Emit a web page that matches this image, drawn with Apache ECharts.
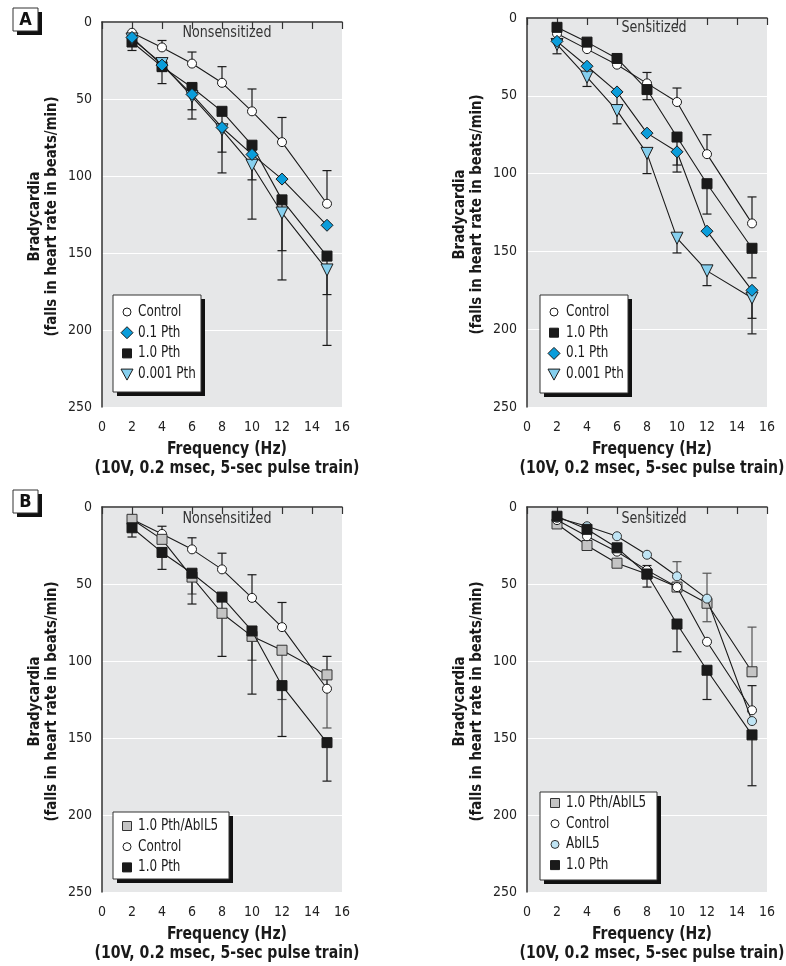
<!DOCTYPE html>
<html>
<head>
<meta charset="utf-8">
<script src="https://cdn.jsdelivr.net/npm/echarts@6/dist/echarts.min.js"></script>
<style>
  html, body { margin: 0; padding: 0; background: #ffffff; }
  #chart { width: 786px; height: 966px; }
</style>
</head>
<body>
<div id="chart"></div>
<script>
// Stimulation frequencies (Hz)
const freq = [2, 4, 6, 8, 10, 12, 15];
const xTicks = [0, 2, 4, 6, 8, 10, 12, 14, 16];
const yTicks = [0, 50, 100, 150, 200, 250];

// A, nonsensitized: bradycardia (beats/min) and error-bar end values
const aNonControl = [7, 16.5, 27, 39.5, 58, 78, 118];
const aNonControlErr = [null, 12, 19.5, 29, 43.5, 62, 96.5];
const aNonPth01 = [10, 28, 47, 68.5, 86, 102, 132];
const aNonPth10 = [13, 29, 42.5, 58, 80, 115.5, 152];
const aNonPth10Err = [18.5, 40, 63, 98, 128, 167.5, 210];
const aNonPth0001 = [11, 27, 48.5, 70, 93, 124, 161];
const aNonPth0001Err = [null, 32, 57, 84.5, 102.5, 148.5, 177];

// A, sensitized
const aSenControl = [10, 20, 30, 42, 54, 87.5, 132];
const aSenControlErr = [null, null, null, 35, 45, 75, 115];
const aSenPth10 = [6, 15.5, 26, 46, 76.5, 106.5, 148];
const aSenPth10Err = [null, null, null, 52.5, 94.5, 126, 167];
const aSenPth01 = [15, 31, 47.5, 74, 86, 137, 175];
const aSenPth01Err = [null, null, 56, null, 99, null, 193];
const aSenPth0001 = [17, 38, 59.5, 87, 141.5, 162.5, 180];
const aSenPth0001Err = [23, 44, 68, 100, 151, 172, 203];

// B, nonsensitized
const bNonAb = [8, 21, 45.5, 69, 84, 93, 109];
const bNonAbErr = [null, null, 56.5, null, 99.5, 125, 143.5];
const bNonControl = [8, 17.5, 27.5, 40.5, 59, 78, 118];
const bNonControlErr = [null, 12.5, 20, 30, 44, 62, 97];
const bNonPth10 = [13.5, 29.5, 43, 58.5, 80.5, 116, 153];
const bNonPth10Err = [19.5, 40.5, 63, 97, 121.5, 149, 178];

// B, sensitized
const bSenAb = [11, 25, 36.5, 43.5, 52, 62.5, 107];
const bSenAbErr = [null, null, null, null, null, 74.5, 78];
const bSenControl = [8.5, 19, 29, 41, 52, 87.5, 132];
const bSenControlErr = [null, null, null, 38, null, null, 116];
const bSenAbil5 = [7, 12.5, 19, 31, 45, 59.5, 139];
const bSenAbil5Err = [null, null, null, null, 35.5, 43, null];
const bSenPth10 = [6, 14.5, 26.5, 43.5, 76, 106, 148];
const bSenPth10Err = [null, null, null, 52, 94, 125, 181];

const FONT = '"DejaVu Sans Condensed", "Liberation Sans", sans-serif';

// marker styles per group
const STY = {
  control: { symbol: 'circle', size: 9, fill: '#ffffff', stroke: '#1a1a1a', err: '#1a1a1a' },
  pth01:   { symbol: 'diamond', size: 12, fill: '#0a9ddb', stroke: '#1a1a1a', err: '#1a1a1a' },
  pth10:   { symbol: 'rect', size: 10, fill: '#1a1a1a', stroke: '#1a1a1a', err: '#1a1a1a' },
  pth0001: { symbol: 'triangle', size: 12, rotate: 180, fill: '#86cfee', stroke: '#1a1a1a', err: '#1a1a1a' },
  ab:      { symbol: 'rect', size: 10, fill: '#c4c4c4', stroke: '#333333', err: '#555555' },
  abil5:   { symbol: 'circle', size: 9, fill: '#bfe4f4', stroke: '#333333', err: '#555555' }
};

const panels = [
  {
    grid: { left: 102, top: 22, width: 240, height: 385 },
    tag: 'A', tagY: 8, note: 'Nonsensitized', noteX: 227, noteY: 33,
    legend: { x: 113, y: 295, w: 88, h: 97, first: 312, mx: 127, tx: 138 },
    draw: [
      ['control', aNonControl, aNonControlErr],
      ['pth10', aNonPth10, aNonPth10Err],
      ['pth0001', aNonPth0001, aNonPth0001Err],
      ['pth01', aNonPth01, null]
    ],
    entries: [['control', 'Control'], ['pth01', '0.1 Pth'], ['pth10', '1.0 Pth'], ['pth0001', '0.001 Pth']]
  },
  {
    grid: { left: 527, top: 18, width: 240, height: 389 },
    note: 'Sensitized', noteX: 654, noteY: 28,
    legend: { x: 540, y: 295, w: 88, h: 98, first: 312, mx: 554, tx: 566 },
    draw: [
      ['control', aSenControl, aSenControlErr],
      ['pth10', aSenPth10, aSenPth10Err],
      ['pth0001', aSenPth0001, aSenPth0001Err],
      ['pth01', aSenPth01, aSenPth01Err]
    ],
    entries: [['control', 'Control'], ['pth10', '1.0 Pth'], ['pth01', '0.1 Pth'], ['pth0001', '0.001 Pth']]
  },
  {
    grid: { left: 102, top: 507, width: 240, height: 385 },
    tag: 'B', tagY: 490, note: 'Nonsensitized', noteX: 227, noteY: 519,
    legend: { x: 113, y: 812, w: 116, h: 67, first: 826, mx: 127, tx: 138 },
    draw: [
      ['control', bNonControl, bNonControlErr],
      ['ab', bNonAb, bNonAbErr],
      ['pth10', bNonPth10, bNonPth10Err]
    ],
    entries: [['ab', '1.0 Pth/AbIL5'], ['control', 'Control'], ['pth10', '1.0 Pth']]
  },
  {
    grid: { left: 527, top: 507, width: 240, height: 385 },
    note: 'Sensitized', noteX: 654, noteY: 519,
    legend: { x: 540, y: 792, w: 117, h: 88, first: 803, mx: 555, tx: 566 },
    draw: [
      ['ab', bSenAb, bSenAbErr],
      ['control', bSenControl, bSenControlErr],
      ['abil5', bSenAbil5, bSenAbil5Err],
      ['pth10', bSenPth10, bSenPth10Err]
    ],
    entries: [['ab', '1.0 Pth/AbIL5'], ['control', 'Control'], ['abil5', 'AbIL5'], ['pth10', '1.0 Pth']]
  }
];

function errRenderer(color) {
  return function (params, api) {
    const x = api.value(0);
    const p1 = api.coord([x, api.value(1)]);
    const p2 = api.coord([x, api.value(2)]);
    const st = { stroke: color, lineWidth: 1.2 };
    return {
      type: 'group',
      children: [
        { type: 'line', shape: { x1: p1[0], y1: p1[1], x2: p2[0], y2: p2[1] }, style: st },
        { type: 'line', shape: { x1: p2[0] - 4.5, y1: p2[1], x2: p2[0] + 4.5, y2: p2[1] }, style: st }
      ]
    };
  };
}

function legendMarker(key, cx, cy) {
  const s = STY[key];
  const style = { fill: s.fill, stroke: s.stroke, lineWidth: 1 };
  if (key === 'control' || key === 'abil5') {
    return { type: 'circle', shape: { cx: cx, cy: cy, r: 4 }, style: style };
  }
  if (key === 'pth10' || key === 'ab') {
    return { type: 'rect', shape: { x: cx - 4.5, y: cy - 4.5, width: 9, height: 9 }, style: style };
  }
  if (key === 'pth01') {
    return { type: 'polygon', shape: { points: [[cx, cy - 6], [cx + 6, cy], [cx, cy + 6], [cx - 6, cy]] }, style: style };
  }
  return { type: 'polygon', shape: { points: [[cx - 6, cy - 5], [cx + 6, cy - 5], [cx, cy + 6]] }, style: style };
}

// condensed text helper (horizontal squeeze along the text direction)
function label(x, y, text, font, opts) {
  opts = opts || {};
  return {
    type: 'text', x: x, y: y, rotation: opts.rotation || 0, scaleX: opts.scale || 1, z: opts.z || 10,
    style: {
      text: text, align: opts.align || 'center', verticalAlign: 'middle',
      font: font, fill: opts.fill || '#1a1a1a', lineHeight: opts.lineHeight || 18
    }
  };
}

const grids = [], xAxes = [], yAxes = [], series = [], graphics = [];

panels.forEach(function (p, i) {
  const g = p.grid;
  grids.push(Object.assign({ show: true, backgroundColor: '#e6e7e8', borderWidth: 0 }, g));
  xAxes.push({
    gridIndex: i, type: 'value', min: xTicks[0], max: xTicks[xTicks.length - 1], interval: 2,
    axisLine: { show: true, lineStyle: { color: '#333333', width: 1.5 } },
    axisTick: { show: true, inside: false, length: 7, lineStyle: { color: '#333333', width: 1.2 } },
    axisLabel: { show: true, margin: 13, fontFamily: FONT, fontSize: 14, color: '#222222' },
    splitLine: { show: false }
  });
  yAxes.push({
    gridIndex: i, type: 'value', inverse: true, min: yTicks[0], max: yTicks[yTicks.length - 1], interval: 50,
    axisLine: { show: true, lineStyle: { color: '#333333', width: 1.5 } },
    axisTick: { show: false },
    axisLabel: { show: true, margin: 10, fontFamily: FONT, fontSize: 14, color: '#222222' },
    splitLine: { show: true, lineStyle: { color: '#ffffff', width: 1.2 } }
  });

  // error bars first, so markers sit on top
  p.draw.forEach(function (d) {
    const key = d[0], vals = d[1], err = d[2];
    if (!err) return;
    const data = [];
    freq.forEach(function (f, k) {
      if (err[k] != null) data.push([f, vals[k], err[k]]);
    });
    series.push({
      type: 'custom', xAxisIndex: i, yAxisIndex: i, z: 2, silent: true,
      renderItem: errRenderer(STY[key].err), encode: { x: 0, y: [1, 2] }, data: data
    });
  });
  p.draw.forEach(function (d, j) {
    const key = d[0], vals = d[1], s = STY[key];
    series.push({
      type: 'line', xAxisIndex: i, yAxisIndex: i, z: 3 + j,
      data: freq.map(function (f, k) { return [f, vals[k]]; }),
      symbol: s.symbol, symbolSize: s.size, symbolRotate: s.rotate || 0,
      showAllSymbol: true, animation: false,
      lineStyle: { color: '#1a1a1a', width: 1.1 },
      itemStyle: { color: s.fill, borderColor: s.stroke, borderWidth: 1 }
    });
  });

  // x-axis title
  const bottom = g.top + g.height;
  graphics.push(label(g.left + 125, bottom + 43, 'Frequency (Hz)', 'bold 17px ' + FONT, { scale: 0.92 }));
  graphics.push(label(g.left + 125, bottom + 62, '(10V, 0.2 msec, 5-sec pulse train)', 'bold 17px ' + FONT, { scale: 0.92 }));

  // y-axis title
  graphics.push(label(g.left - 58.5, g.top + g.height / 2 + 2, 'Bradycardia\n(falls in heart rate in beats/min)',
    'bold 16px ' + FONT, { rotation: Math.PI / 2, scale: 0.92, lineHeight: 17 }));

  // condition label
  graphics.push(label(p.noteX, p.noteY, p.note, '15px ' + FONT, { scale: 0.94, fill: '#333333' }));

  // legend box with drop shadow
  const L = p.legend;
  graphics.push({ type: 'rect', shape: { x: L.x + 4, y: L.y + 4, width: L.w, height: L.h }, style: { fill: '#111111' }, z: 50 });
  graphics.push({ type: 'rect', shape: { x: L.x, y: L.y, width: L.w, height: L.h }, style: { fill: '#ffffff', stroke: '#333333', lineWidth: 1 }, z: 51 });
  p.entries.forEach(function (e, k) {
    const cy = L.first + k * 20.7;
    const m = legendMarker(e[0], L.mx, cy);
    m.z = 52;
    graphics.push(m);
    graphics.push(label(L.tx, cy, e[1], '15px ' + FONT, { align: 'left', scale: 0.89, z: 52 }));
  });

  // panel tag
  if (p.tag) {
    graphics.push({ type: 'rect', shape: { x: 17, y: p.tagY + 4, width: 25, height: 23 }, style: { fill: '#111111' } });
    graphics.push({ type: 'rect', shape: { x: 13, y: p.tagY, width: 25, height: 23 }, style: { fill: '#ffffff', stroke: '#333333', lineWidth: 1 } });
    graphics.push(label(25.5, p.tagY + 12, p.tag, 'bold 18px ' + FONT, { fill: '#111111' }));
  }
});

const chart = echarts.init(document.getElementById('chart'), null, { renderer: 'canvas' });
chart.setOption({
  animation: false,
  backgroundColor: '#ffffff',
  grid: grids,
  xAxis: xAxes,
  yAxis: yAxes,
  series: series,
  graphic: graphics
});
</script>
</body>
</html>
